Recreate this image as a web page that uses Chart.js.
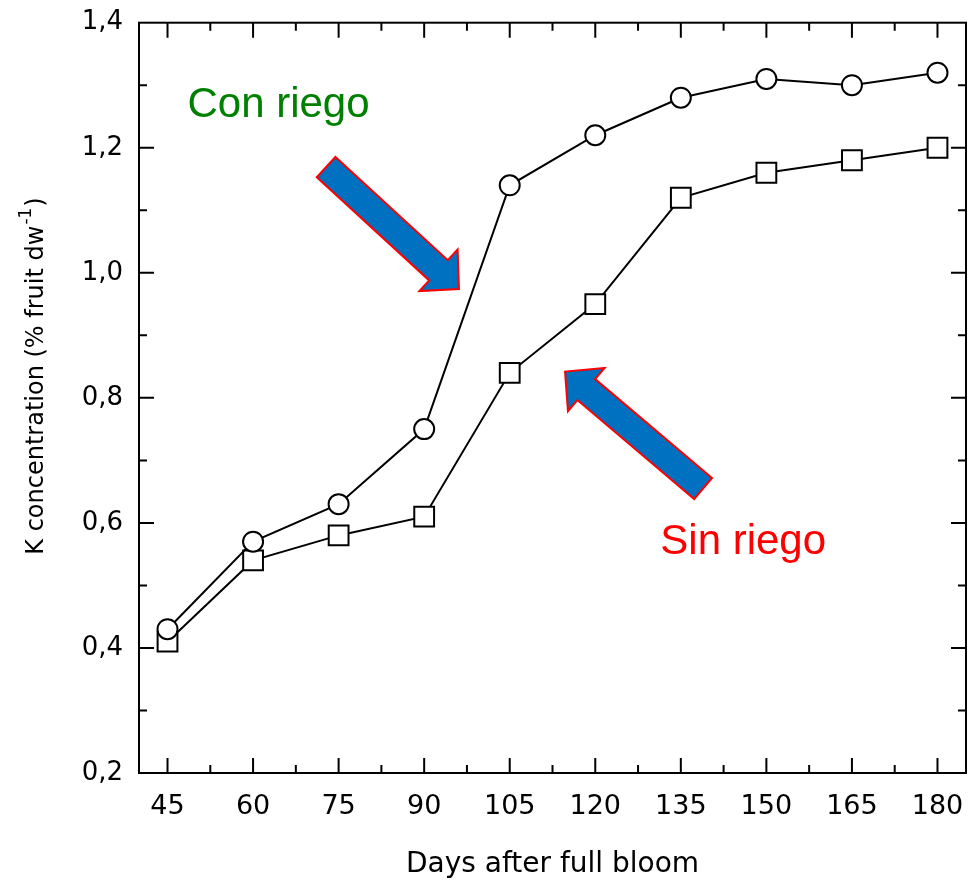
<!DOCTYPE html>
<html>
<head>
<meta charset="utf-8">
<script src="https://cdn.jsdelivr.net/npm/chart.js@4.4.1/dist/chart.umd.min.js"></script>
<style>
  html, body { margin: 0; padding: 0; background: #fff; }
  #wrap { width: 970px; height: 882px; }
</style>
</head>
<body>
<div id="wrap"><canvas id="kChart" width="970" height="882"></canvas></div>
<script>
// === DATA ===
const days = [45, 60, 75, 90, 105, 120, 135, 150, 165, 180];
const conRiego = [0.43, 0.57, 0.63, 0.75, 1.14, 1.22, 1.28, 1.31, 1.30, 1.32];
const sinRiego = [0.41, 0.54, 0.58, 0.61, 0.84, 0.95, 1.12, 1.16, 1.18, 1.20];
const yTicks = [0.2, 0.4, 0.6, 0.8, 1.0, 1.2, 1.4];
const xTitle = 'Days after full bloom';
const yTitle = 'K concentration (% fruit dw';

// === ANNOTATIONS (anchored in data units) ===
const NOTES = {
  con: { text: 'Con riego', x: 48.5, y: 1.249, color: '#008000', arrow: [72.8, 1.169, 96.1, 0.974] },
  sin: { text: 'Sin riego', x: 131.4, y: 0.551, color: '#FF0000', arrow: [138.9, 0.655, 114.7, 0.842] }
};

const toPts = ys => days.map((d, i) => ({ x: d, y: ys[i] }));

// block arrow like the powerpoint ones
function drawArrow(ctx, tx, ty, hx, hy) {
  const w = 27.5, hw = 28.3, hl = 27.8;
  const len = Math.hypot(hx - tx, hy - ty);
  const ux = (hx - tx) / len, uy = (hy - ty) / len;
  const nx = -uy, ny = ux;
  const kx = hx - ux * hl, ky = hy - uy * hl;
  ctx.beginPath();
  ctx.moveTo(tx + nx * w / 2, ty + ny * w / 2);
  ctx.lineTo(kx + nx * w / 2, ky + ny * w / 2);
  ctx.lineTo(kx + nx * hw, ky + ny * hw);
  ctx.lineTo(hx, hy);
  ctx.lineTo(kx - nx * hw, ky - ny * hw);
  ctx.lineTo(kx - nx * w / 2, ky - ny * w / 2);
  ctx.lineTo(tx - nx * w / 2, ty - ny * w / 2);
  ctx.closePath();
  ctx.fillStyle = '#0070C0';
  ctx.fill();
  ctx.strokeStyle = '#FF0000';
  ctx.lineWidth = 2;
  ctx.lineJoin = 'miter';
  ctx.stroke();
}

// === FRAME + INWARD TICKS ===
const framePlugin = {
  id: 'frame',
  afterDraw(chart) {
    const { ctx, chartArea: a, scales: { x, y } } = chart;
    ctx.save();
    ctx.strokeStyle = '#000';
    ctx.lineWidth = 2;
    ctx.strokeRect(a.left, a.top, a.right - a.left, a.bottom - a.top);
    ctx.beginPath();
    for (let k = 3; k < 14; k++) {
      const py = y.getPixelForValue(k / 10);
      const len = k % 2 === 0 ? 15 : 8;
      ctx.moveTo(a.left, py); ctx.lineTo(a.left + len, py);
      ctx.moveTo(a.right, py); ctx.lineTo(a.right - len, py);
    }
    days.forEach((d, i) => {
      let px = x.getPixelForValue(d);
      ctx.moveTo(px, a.bottom); ctx.lineTo(px, a.bottom - 15);
      ctx.moveTo(px, a.top); ctx.lineTo(px, a.top + 15);
      if (i < days.length - 1) {
        px = x.getPixelForValue(d + 7.5);
        ctx.moveTo(px, a.bottom); ctx.lineTo(px, a.bottom - 8);
        ctx.moveTo(px, a.top); ctx.lineTo(px, a.top + 8);
      }
    });
    ctx.stroke();
    ctx.restore();
  }
};

// === ARROWS, LABELS, Y TITLE ===
const notesPlugin = {
  id: 'notes',
  afterDraw(chart) {
    const { ctx, scales: { x, y } } = chart;
    ctx.save();
    Object.values(NOTES).forEach(n => {
      const [t1, t2, h1, h2] = n.arrow;
      drawArrow(ctx, x.getPixelForValue(t1), y.getPixelForValue(t2), x.getPixelForValue(h1), y.getPixelForValue(h2));
      ctx.fillStyle = n.color;
      ctx.font = '42px "Liberation Sans", Arial, sans-serif';
      ctx.textAlign = 'left';
      ctx.textBaseline = 'alphabetic';
      ctx.fillText(n.text, x.getPixelForValue(n.x), y.getPixelForValue(n.y));
    });

    // rotated y title with superscript -1
    ctx.translate(36.5, 376);
    ctx.rotate(-Math.PI / 2);
    ctx.fillStyle = '#000';
    ctx.textBaseline = 'middle';
    ctx.textAlign = 'left';
    const big = '24px "DejaVu Sans"', small = '17px "DejaVu Sans"';
    ctx.font = big;
    const wMain = ctx.measureText(yTitle).width, wClose = ctx.measureText(')').width;
    ctx.font = small;
    const wSup = ctx.measureText('-1').width + 2;
    let sx = -(wMain + wSup + wClose) / 2;
    ctx.font = big;
    ctx.fillText(yTitle, sx, 0);
    sx += wMain;
    ctx.font = small;
    ctx.fillText('-1', sx + 1, -10);
    sx += wSup;
    ctx.font = big;
    ctx.fillText(')', sx, 0);
    ctx.restore();
  }
};

const ctx = document.getElementById('kChart').getContext('2d');
new Chart(ctx, {
  type: 'line',
  data: {
    datasets: [
      {
        label: 'Con riego',
        data: toPts(conRiego),
        borderColor: '#000',
        borderWidth: 2,
        tension: 0,
        pointStyle: 'circle',
        pointRadius: 10,
        pointBorderWidth: 2,
        pointBorderColor: '#000',
        pointBackgroundColor: '#fff'
      },
      {
        label: 'Sin riego',
        data: toPts(sinRiego),
        borderColor: '#000',
        borderWidth: 2,
        tension: 0,
        pointStyle: 'rect',
        pointRadius: 14,
        pointBorderWidth: 2,
        pointBorderColor: '#000',
        pointBackgroundColor: '#fff'
      }
    ]
  },
  options: {
    responsive: false,
    animation: false,
    layout: { autoPadding: false, padding: { left: 0, right: 4, top: 22.7, bottom: 0 } },
    plugins: { legend: { display: false }, tooltip: { enabled: false } },
    scales: {
      x: {
        type: 'linear',
        min: 40,
        max: 185,
        afterBuildTicks: s => { s.ticks = days.map(v => ({ value: v })); },
        afterFit: s => { s.height = 109; },
        // tick marks hidden; tickLength only pushes the labels off the axis
        grid: { display: false, drawTicks: true, tickLength: 18 },
        border: { display: false },
        ticks: {
          padding: 0,
          color: '#000',
          maxRotation: 0,
          autoSkip: false,
          font: { family: 'DejaVu Sans', size: 27 }
        },
        title: {
          display: true,
          text: xTitle,
          color: '#000',
          font: { family: 'DejaVu Sans', size: 28 },
          padding: { top: 0, bottom: 0 }
        }
      },
      y: {
        min: 0.2,
        max: 1.4,
        afterBuildTicks: s => { s.ticks = yTicks.map(v => ({ value: v })); },
        afterFit: s => { s.width = 139; },
        grid: { display: false, drawTicks: true, tickLength: 16 },
        border: { display: false },
        ticks: {
          padding: 0,
          color: '#000',
          font: { family: 'DejaVu Sans', size: 26 },
          callback: v => v.toFixed(1).replace('.', ',')
        }
      }
    }
  },
  plugins: [framePlugin, notesPlugin]
});
</script>
</body>
</html>
